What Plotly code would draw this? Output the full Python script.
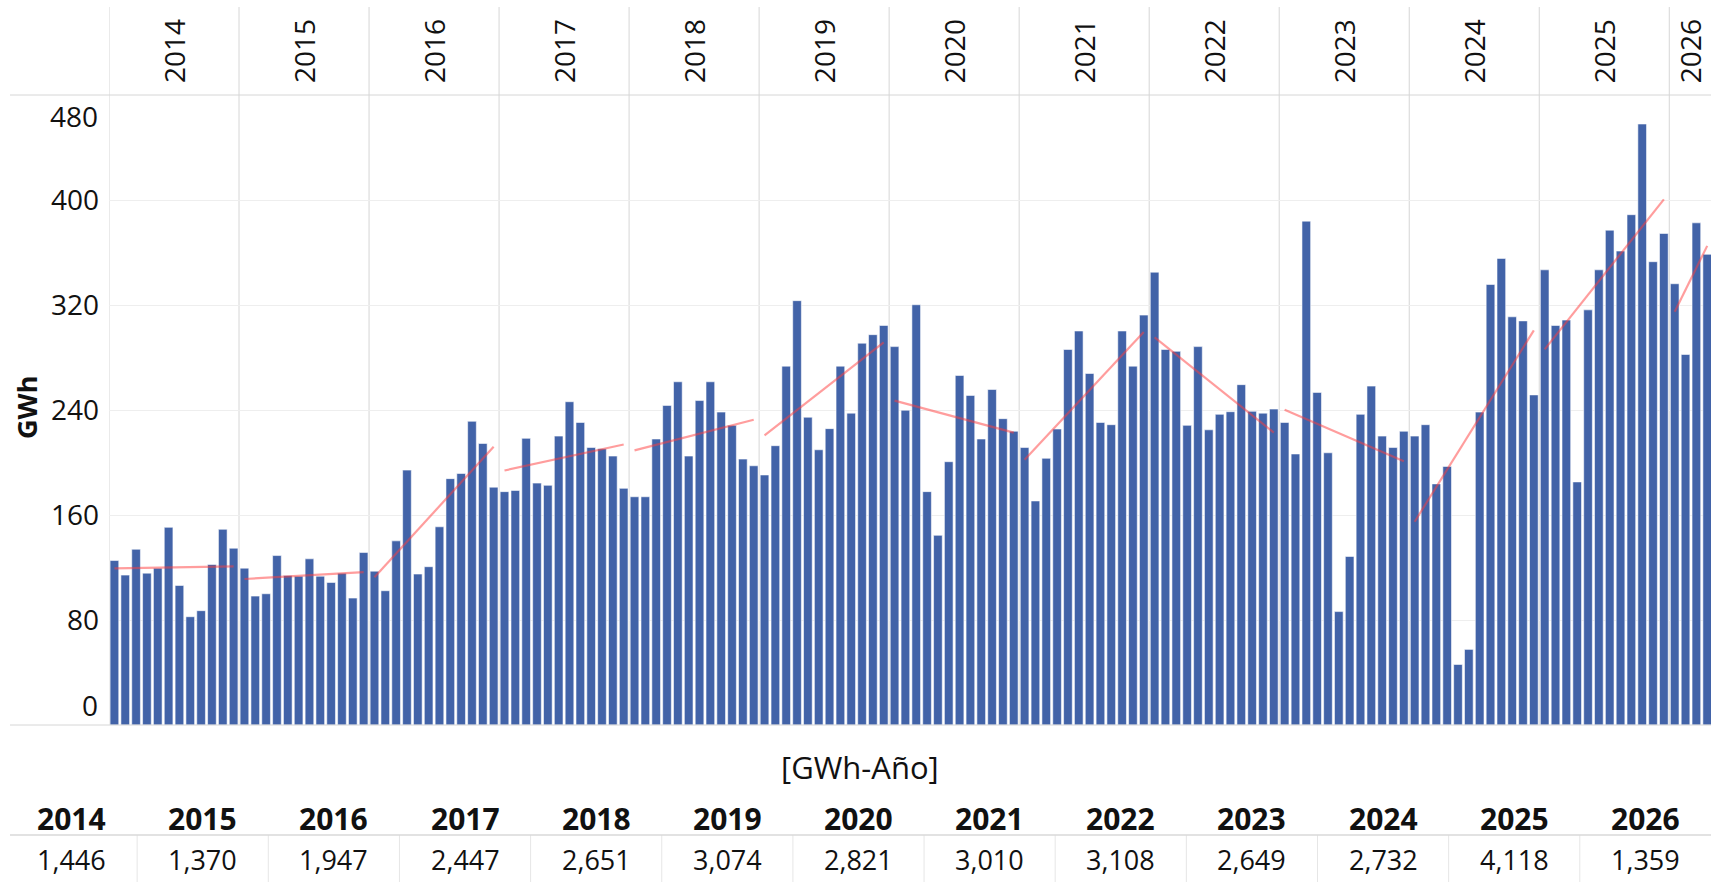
import numpy as np
import plotly.graph_objects as go

# ---------------- data (monthly GWh) ----------------
years = [2014, 2015, 2016, 2017, 2018, 2019, 2020, 2021, 2022, 2023, 2024, 2025, 2026]

gwh_2014 = [125.3, 114.2, 133.9, 115.7, 119.5, 150.6, 106.3, 82.5, 87.1, 122.3, 149.1, 134.7]
gwh_2015 = [119.5, 98.2, 100.0, 129.1, 113.9, 113.4, 126.6, 113.4, 108.6, 115.7, 96.7, 131.4]
gwh_2016 = [117.2, 102.3, 140.3, 194.2, 115.0, 120.6, 151.0, 187.7, 191.6, 231.4, 214.5, 181.2]
gwh_2017 = [177.8, 178.7, 218.4, 184.3, 182.6, 220.1, 246.3, 230.5, 211.4, 210.5, 204.9, 180.3]
gwh_2018 = [173.9, 173.9, 217.9, 243.5, 261.5, 204.9, 247.2, 261.5, 238.4, 228.3, 202.6, 197.5]
gwh_2019 = [190.5, 212.8, 273.4, 323.3, 234.5, 209.7, 225.8, 273.4, 237.6, 290.9, 297.4, 304.4]
gwh_2020 = [288.3, 239.8, 320.2, 177.8, 144.5, 200.6, 266.3, 251.1, 217.9, 255.6, 233.4, 223.8]
gwh_2021 = [211.4, 170.7, 203.2, 225.5, 286.1, 300.2, 267.8, 230.5, 228.8, 300.2, 273.4, 312.3]
gwh_2022 = [345.0, 286.1, 284.7, 228.3, 288.3, 224.9, 236.7, 238.7, 259.3, 239.0, 237.6, 240.7]
gwh_2023 = [230.5, 206.5, 383.9, 253.4, 207.4, 86.4, 128.4, 236.7, 258.2, 220.1, 211.4, 223.8]
gwh_2024 = [220.1, 228.8, 183.7, 197.0, 46.1, 57.6, 238.4, 335.6, 355.5, 311.0, 307.9, 251.5]
gwh_2025 = [346.8, 304.4, 308.5, 185.2, 316.3, 346.8, 377.0, 361.1, 388.8, 457.9, 353.0, 374.5]
gwh_2026 = [336.2, 282.3, 382.6, 358.6]

yearly_totals = ["1,446", "1,370", "1,947", "2,447", "2,651", "3,074", "2,821",
                 "3,010", "3,108", "2,649", "2,732", "4,118", "1,359"]

y_ticks = [0, 80, 160, 240, 320, 400, 480]

monthly = [gwh_2014, gwh_2015, gwh_2016, gwh_2017, gwh_2018, gwh_2019, gwh_2020,
           gwh_2021, gwh_2022, gwh_2023, gwh_2024, gwh_2025, gwh_2026]

# ---------------- styling / layout constants ----------------
W, H = 1711, 882
ML, MT, MB = 109, 95, 157
PLOT_W = W - ML
PLOT_H = H - MT - MB
X_MIN, X_MAX = -0.5, 147.35
BAR_COLOR = "#4263A8"
TREND_COLOR = "rgba(255,60,60,0.5)"
FONT = "Open Sans"
GRID = "#EEEEEE"
SEP = "#D6D6D6"


def px_x(p):   # pixel -> paper x
    return (p - ML) / PLOT_W


def px_y(p):   # pixel -> paper y
    return (H - MB - p) / PLOT_H


fig = go.Figure()

# bars
xs, ys = [], []
idx = 0
for vals in monthly:
    for v in vals:
        xs.append(idx)
        ys.append(v)
        idx += 1
fig.add_trace(go.Bar(x=xs, y=ys, marker=dict(color=BAR_COLOR,
                                              line=dict(color="rgba(255,255,255,0.7)", width=0.8)),
                     showlegend=False, hoverinfo="y"))

# per-year linear trend lines
start = 0
for yr, vals in zip(years, monthly):
    n = len(vals)
    xi = np.arange(start, start + n)
    k, b = np.polyfit(xi, np.array(vals), 1)
    xe = np.array([xi[0], xi[-1]])
    fig.add_trace(go.Scatter(x=xe, y=k * xe + b, mode="lines",
                             line=dict(color=TREND_COLOR, width=2.2),
                             showlegend=False, hoverinfo="skip"))
    start += n

shapes = []
annotations = []

# year separators (vertical lines through header and plot)
for i in range(len(years)):
    xv = i * 12 - 0.5
    shapes.append(dict(type="line", xref="x", yref="paper", x0=xv, x1=xv,
                       y0=0, y1=px_y(7), line=dict(color=SEP, width=1), layer="below"))
# header bottom line and zero line
shapes.append(dict(type="line", xref="paper", yref="paper", x0=px_x(10), x1=1,
                   y0=1, y1=1, line=dict(color=SEP, width=1)))
shapes.append(dict(type="line", xref="paper", yref="paper", x0=px_x(10), x1=1,
                   y0=0, y1=0, line=dict(color=SEP, width=1)))

# header year labels (rotated)
for i, yr in enumerate(years):
    lo = i * 12 - 0.5
    hi = min(lo + 12, X_MAX)
    annotations.append(dict(x=(lo + hi) / 2, xref="x", y=px_y(51), yref="paper",
                            text=str(yr), textangle=-90, showarrow=False,
                            xanchor="center", yanchor="middle",
                            font=dict(family=FONT, size=28, color="#111111")))

# end tick labels (Tableau shifts them inside the pane)
annotations.append(dict(x=0, xref="paper", y=y_ticks[0], yref="y", text=str(y_ticks[0]),
                        showarrow=False, xanchor="right", yanchor="middle", xshift=-9, yshift=20,
                        font=dict(family=FONT, size=28, color="#111111")))
annotations.append(dict(x=0, xref="paper", y=y_ticks[-1], yref="y", text=str(y_ticks[-1]),
                        showarrow=False, xanchor="right", yanchor="middle", xshift=-9, yshift=-21,
                        font=dict(family=FONT, size=28, color="#111111")))

# y axis title
annotations.append(dict(x=px_x(26), xref="paper", y=px_y(408), yref="paper", text="<b>GWh</b>",
                        textangle=-90, showarrow=False, xanchor="center", yanchor="middle",
                        font=dict(family=FONT, size=27, color="#111111")))

# sub-title of the totals table
annotations.append(dict(x=px_x(860), xref="paper", y=px_y(767), yref="paper", text="[GWh-Año]",
                        showarrow=False, xanchor="center", yanchor="middle",
                        font=dict(family=FONT, size=31, color="#111111")))

# totals table
COL_W = 131.15
COL_X0 = 6
for i, (yr, tot) in enumerate(zip(years, yearly_totals)):
    cx = COL_X0 + COL_W * (i + 0.5)
    annotations.append(dict(x=px_x(cx), xref="paper", y=px_y(818), yref="paper",
                            text="<b>%d</b>" % yr, showarrow=False, xanchor="center",
                            yanchor="middle", font=dict(family=FONT, size=30, color="#111111")))
    annotations.append(dict(x=px_x(cx), xref="paper", y=px_y(860), yref="paper",
                            text=tot, showarrow=False, xanchor="center", yanchor="middle",
                            font=dict(family=FONT, size=27, color="#111111")))
    if i > 0:
        sx = COL_X0 + COL_W * i
        shapes.append(dict(type="line", xref="paper", yref="paper", x0=px_x(sx), x1=px_x(sx),
                           y0=px_y(835), y1=px_y(H), line=dict(color="#E6E6E6", width=1)))
shapes.append(dict(type="line", xref="paper", yref="paper", x0=px_x(10), x1=1,
                   y0=px_y(835), y1=px_y(835), line=dict(color="#D9D9D9", width=1.5)))

fig.update_layout(
    width=W, height=H,
    margin=dict(l=ML, r=0, t=MT, b=MB, pad=0),
    plot_bgcolor="white", paper_bgcolor="white",
    bargap=0.2,
    shapes=shapes, annotations=annotations,
    font=dict(family=FONT, color="#111111"),
    xaxis=dict(range=[X_MIN, X_MAX], showticklabels=False, showgrid=False,
               zeroline=False, showline=False, ticks=""),
    yaxis=dict(range=[y_ticks[0], y_ticks[-1]], tickvals=y_ticks[1:-1], showgrid=True,
               gridcolor=GRID, gridwidth=1, zeroline=False, showline=False, ticks="",
               ticklabelstandoff=9,
               tickfont=dict(family=FONT, size=28, color="#111111")),
)

fig.write_html("out.html", config={"displayModeBar": False},
               post_script="document.body.style.margin='0px';document.body.style.overflow='hidden';")
